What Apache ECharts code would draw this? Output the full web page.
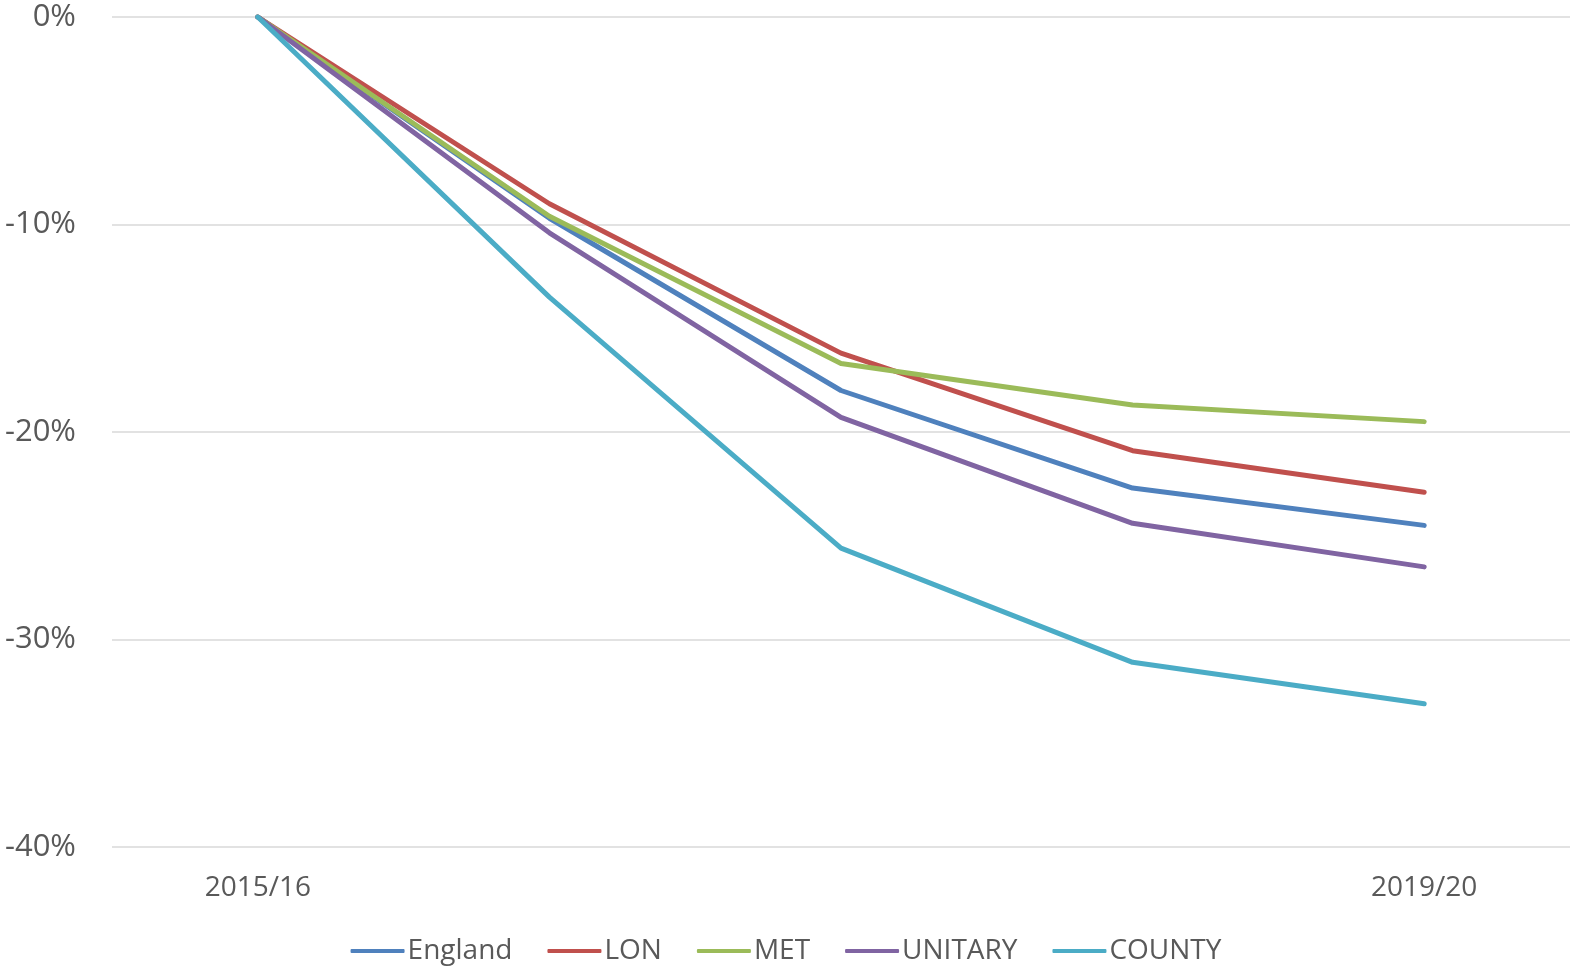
<!DOCTYPE html>
<html>
<head>
<meta charset="utf-8">
<script src="https://cdn.jsdelivr.net/npm/echarts@6/dist/echarts.min.js"></script>
<style>html,body{margin:0;padding:0;background:#fff}#c{width:1572px;height:966px}</style>
</head>
<body>
<div id="c"></div>
<script>
const categories = ['2015/16', '2016/17', '2017/18', '2018/19', '2019/20'];
const shownLabels = ['2015/16', '2019/20'];
const england = [0, -9.7, -18.0, -22.7, -24.5];
const lon = [0, -9.0, -16.2, -20.9, -22.9];
const met = [0, -9.6, -16.7, -18.7, -19.5];
const unitary = [0, -10.4, -19.3, -24.4, -26.5];
const county = [0, -13.5, -25.6, -31.1, -33.1];
const seriesNames = ['England', 'LON', 'MET', 'UNITARY', 'COUNTY'];
const seriesData = [england, lon, met, unitary, county];
const colors = ['#4F81BD', '#C0504D', '#9BBB59', '#8064A2', '#4BACC6'];
const FONT = '"Open Sans", sans-serif';

const chart = echarts.init(document.getElementById('c'));
chart.setOption({
  animation: false,
  color: colors,
  grid: { left: 112, right: 2, top: 17, bottom: 119, containLabel: false },
  legend: {
    bottom: -4,
    left: 'center',
    itemWidth: 54,
    itemHeight: 4,
    itemGap: 35,
    icon: 'roundRect',
    textStyle: { fontFamily: FONT, fontSize: 28, color: '#595959', padding: [0, 0, 0, -2] },
    data: seriesNames
  },
  xAxis: {
    type: 'category',
    data: categories,
    boundaryGap: true,
    axisLine: { show: false },
    axisTick: { show: false },
    axisLabel: {
      interval: 0,
      margin: 27,
      fontFamily: FONT,
      fontSize: 28,
      color: '#595959',
      formatter: v => shownLabels.includes(v) ? v : ''
    }
  },
  yAxis: {
    type: 'value',
    min: -40,
    max: 0,
    interval: 10,
    axisLine: { show: false },
    axisTick: { show: false },
    splitLine: { lineStyle: { color: '#D9D9D9', width: 1.5 } },
    axisLabel: {
      margin: 36,
      fontFamily: FONT,
      fontSize: 31,
      color: '#595959',
      formatter: v => v + '%'
    }
  },
  series: seriesNames.map((n, i) => ({
    name: n,
    type: 'line',
    data: seriesData[i],
    symbol: 'none',
    lineStyle: { width: 5, color: colors[i], cap: 'round', join: 'round' },
    itemStyle: { color: colors[i] }
  }))
});
</script>
</body>
</html>
